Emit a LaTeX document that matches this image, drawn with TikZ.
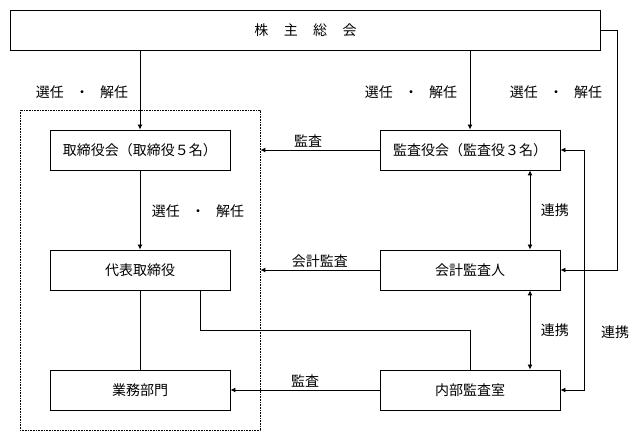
\documentclass[tikz,border=0pt]{standalone}
\usepackage{fontspec}
\setmainfont{Noto Sans CJK JP}
\usepackage{tikz}
\usetikzlibrary{arrows.meta, positioning, calc}

\newcommand{\senkai}{選任\hspace{0.8em}・\hspace{0.8em}解任}

\begin{document}
\begin{tikzpicture}[x=1pt, y=-1pt, font=\fontsize{14pt}{16pt}\selectfont,
    box/.style={draw, line width=0.9pt, minimum width=180pt, minimum height=40pt, inner sep=0pt},
    arr/.style={-{Latex[length=5pt,width=5pt]}, line width=0.9pt},
    twoway/.style={{Latex[length=5pt,width=5pt]}-{Latex[length=5pt,width=5pt]}, line width=0.9pt},
    plain/.style={line width=0.9pt}]
    \useasboundingbox (0,0) rectangle (641,441);

    % Assemblea
    \node[draw, line width=0.9pt, minimum width=590pt, minimum height=40pt, inner sep=0pt] (soukai) at (305.5,30)
        {株\hspace{1.1em}主\hspace{1.1em}総\hspace{1.1em}会};

    % Riquadro tratteggiato
    \node[draw, line width=0.8pt, dash pattern=on 0.8pt off 0.8pt, minimum width=240pt, minimum height=320pt] (board) at (140,270) {};

    % Colonna sinistra
    \node[box] (torikai) at (140,150) {取締役会（取締役５名）};
    \node[box] (daihyo) at (140,270) {代表取締役};
    \node[box] (gyomu) at (140,390) {業務部門};

    % Colonna destra
    \node[box] (kansakai) at (470,150) {監査役会（監査役３名）};
    \node[box] (kaikei) at (470,270) {会計監査人};
    \node[box] (naibu) at (470,390) {内部監査室};

    % Etichette
    \node (sen1) at (82,92) {\senkai};
    \node (sen2) at (411,92) {\senkai};
    \node (sen3) at (556,92) {\senkai};
    \node (sen4) at (198,211) {\senkai};

    % Collegamenti
    \draw[arr] (soukai.south -| torikai.north) -- (torikai.north);
    \draw[arr] (soukai.south -| kansakai.north) -- (kansakai.north);
    \draw[arr] (soukai.east) -- ++(16,0) |- (kaikei.east);
    \draw[arr] (torikai) -- (daihyo);
    \draw[plain] (daihyo) -- (gyomu);
    \draw[plain] ([xshift=60pt]daihyo.south) -- ++(0,40) -| (naibu.north);

    \draw[arr] (kansakai.west) -- (kansakai.west -| board.east) node[above=-1pt, pos=0.6] {監査};
    \draw[arr] (kaikei.west) -- (kaikei.west -| board.east) node[above=-1pt, midway] {会計監査};
    \draw[arr] (naibu.west) -- (gyomu.east) node[above=-1pt, midway] {監査};

    \draw[twoway] ([xshift=60pt]kansakai.south) -- ([xshift=60pt]kaikei.north) node[right=7pt, midway] {連携};
    \draw[twoway] ([xshift=60pt]kaikei.south) -- ([xshift=60pt]naibu.north) node[right=7pt, midway] {連携};
    \draw[twoway] (kansakai.east) -- ++(24,0) |- (naibu.east) node[right=13pt, pos=0.38] {連携};
\end{tikzpicture}
\end{document}
